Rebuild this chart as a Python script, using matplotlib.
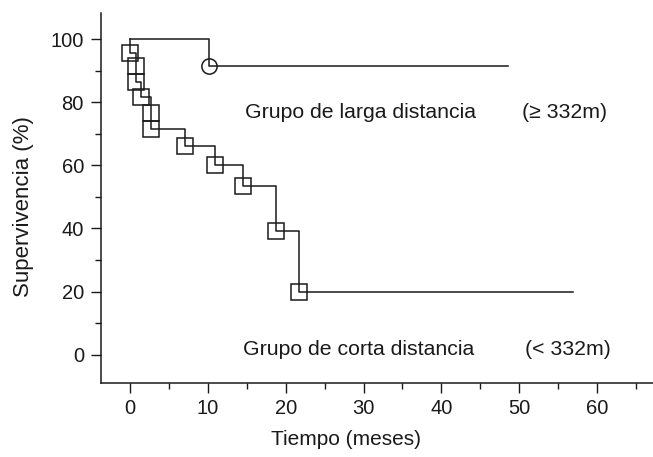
import matplotlib
matplotlib.use("Agg")
import matplotlib.pyplot as plt
from matplotlib.ticker import MultipleLocator

plt.rcParams["font.family"] = ["Liberation Sans", "DejaVu Sans"]

# Grupo de corta distancia (< 332m): tiempos (meses) y supervivencia (%)
corta_tiempo = [0, 0, 0.7, 0.7, 1.4, 2.7, 2.7, 7.0, 10.9, 14.5, 18.7, 21.7, 56.9]
corta_superv = [100, 95.5, 91.3, 86.3, 81.5, 76.6, 71.5, 66.2, 60.2, 53.3, 39.1, 19.9, 19.9]

# Grupo de larga distancia (>= 332m)
larga_tiempo = [0, 10.2, 48.6]
larga_superv = [100, 91.5, 91.5]

x_ticks = [0, 10, 20, 30, 40, 50, 60]
y_ticks = [0, 20, 40, 60, 80, 100]

ink = "#1a1a1a"

fig = plt.figure(figsize=(6.53, 4.57), dpi=100)
ax = fig.add_axes([0.154, 0.163, 0.846, 0.809])

# curvas escalonadas
ax.plot(larga_tiempo, larga_superv, drawstyle="steps-post", color=ink, lw=1.1)
ax.plot(corta_tiempo, corta_superv, drawstyle="steps-post", color=ink, lw=1.1)

# marcadores de eventos
ax.plot(larga_tiempo[1:2], larga_superv[1:2], "o", ms=11, mfc="none", mec=ink, mew=1.1)
ax.plot(corta_tiempo[1:-1], corta_superv[1:-1], "s", ms=11, mfc="none", mec=ink, mew=1.1)

ax.text(14.8, 76.7, "Grupo de larga distancia", fontsize=15.3, color=ink, va="center")
ax.text(50.4, 76.7, "(≥ 332m)", fontsize=15.3, color=ink, va="center")
ax.text(14.5, 1.8, "Grupo de corta distancia", fontsize=15.3, color=ink, va="center")
ax.text(50.8, 1.8, "(< 332m)", fontsize=15.3, color=ink, va="center")

ax.set_xlim(-3.8, 67.2)
ax.set_ylim(-8.8, 108.3)
ax.set_xticks(x_ticks)
ax.set_yticks(y_ticks)
ax.xaxis.set_minor_locator(MultipleLocator(5))
ax.yaxis.set_minor_locator(MultipleLocator(10))
ax.tick_params(which="major", length=7, width=1, colors=ink, labelsize=14.5, pad=5)
ax.tick_params(which="minor", length=4, width=1, colors=ink)

ax.spines["top"].set_visible(False)
ax.spines["right"].set_visible(False)
for s in ["left", "bottom"]:
    ax.spines[s].set_linewidth(1.1)
    ax.spines[s].set_color(ink)

ax.set_xlabel("Tiempo (meses)", fontsize=15, color=ink)
ax.set_ylabel("Supervivencia (%)", fontsize=16, color=ink)
ax.xaxis.set_label_coords(0.445, -0.128)
ax.yaxis.set_label_coords(-0.12, 0.475)

fig.savefig("out.png", dpi=100)
